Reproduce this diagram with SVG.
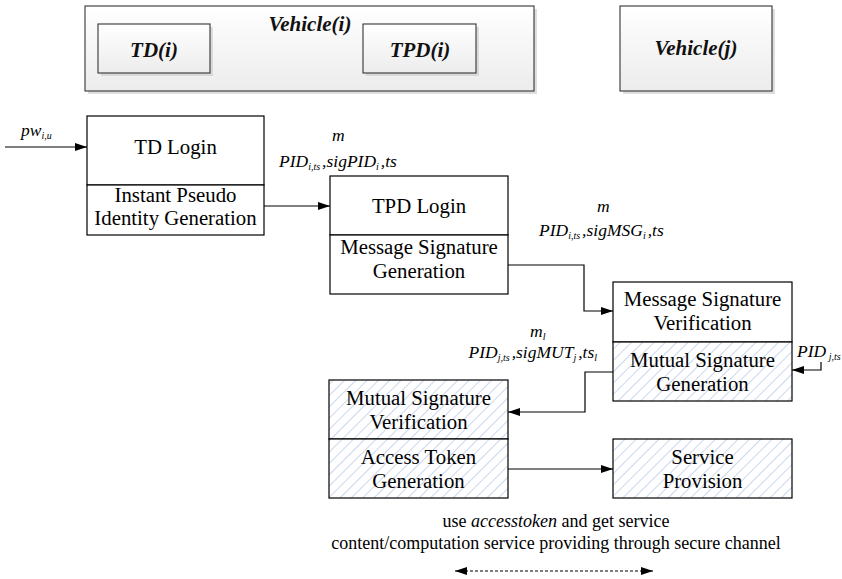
<svg xmlns="http://www.w3.org/2000/svg" width="842" height="579" viewBox="0 0 842 579">
<defs>
<style>
.box{fill:#fff;stroke:#000;stroke-width:1.2}
.hbox{fill:url(#hatch);stroke:#000;stroke-width:1.2}
.vbox{fill:url(#grad);stroke:#333;stroke-width:1.1}
.shadow{fill:#c8c8c8;opacity:0.6}
.line{fill:none;stroke:#000;stroke-width:1.2}
.t{font-family:"Liberation Serif","Times New Roman",serif;font-size:20.8px;fill:#000;text-anchor:middle}
.bi{font-family:"Liberation Serif","Times New Roman",serif;font-size:21px;font-weight:bold;font-style:italic;fill:#111;text-anchor:middle}
.lab{font-family:"Liberation Serif","Times New Roman",serif;font-size:17.5px;font-style:italic;fill:#000}
.sub{font-size:10px}
.cap{font-family:"Liberation Serif","Times New Roman",serif;font-size:18px;fill:#000;text-anchor:middle}
</style>
<linearGradient id="grad" x1="0" y1="0" x2="0" y2="1">
<stop offset="0" stop-color="#ffffff"/>
<stop offset="1" stop-color="#ececec"/>
</linearGradient>
<pattern id="hatch" patternUnits="userSpaceOnUse" width="8" height="8" patternTransform="rotate(45)">
<rect width="8" height="8" fill="#fff"/>
<line x1="0" y1="0" x2="0" y2="8" stroke="#aec2e6" stroke-width="1.3"/>
</pattern>
<marker id="arr" viewBox="0 0 12 10" refX="12" refY="5" markerWidth="12" markerHeight="10" markerUnits="userSpaceOnUse" orient="auto">
<path d="M0,1 L12,5 L0,9 z" fill="#000"/>
</marker>
<marker id="arrS" viewBox="0 0 12 10" refX="0" refY="5" markerWidth="12" markerHeight="10" markerUnits="userSpaceOnUse" orient="auto">
<path d="M12,1 L0,5 L12,9 z" fill="#000"/>
</marker>
</defs>
<rect width="842" height="579" fill="#fff"/>

<g id="vehicle-i">
<rect class="shadow" x="88" y="9" width="449" height="85"/>
<rect class="vbox" x="85" y="6" width="449" height="85"/>
<text class="bi" x="310" y="31">Vehicle(i)</text>
</g>
<g id="td-i">
<rect class="shadow" x="101" y="27" width="112" height="49"/>
<rect class="vbox" x="98" y="24" width="112" height="49"/>
<text class="bi" x="154" y="57">TD(i)</text>
</g>
<g id="tpd-i">
<rect class="shadow" x="366" y="27" width="113" height="49"/>
<rect class="vbox" x="363" y="24" width="113" height="49"/>
<text class="bi" x="420" y="57">TPD(i)</text>
</g>
<g id="vehicle-j">
<rect class="shadow" x="623" y="9" width="152" height="85"/>
<rect class="vbox" x="620" y="6" width="152" height="85"/>
<text class="bi" x="696" y="55">Vehicle(j)</text>
</g>

<g id="td-login">
<rect class="box" x="87" y="116" width="177" height="69"/>
<text class="t" x="175.5" y="154">TD Login</text>
</g>
<g id="instant-pseudo">
<rect class="box" x="87" y="185" width="177" height="50"/>
<text class="t" x="175.5" y="202">Instant Pseudo</text>
<text class="t" x="175.5" y="225">Identity Generation</text>
</g>
<g id="tpd-login">
<rect class="box" x="330" y="176" width="178" height="59"/>
<text class="t" x="419" y="213">TPD Login</text>
</g>
<g id="msg-sig-gen">
<rect class="box" x="330" y="235" width="178" height="59"/>
<text class="t" x="419" y="254">Message Signature</text>
<text class="t" x="419" y="278">Generation</text>
</g>
<g id="msg-sig-ver">
<rect class="box" x="613" y="282" width="179" height="60"/>
<text class="t" x="702.5" y="306">Message Signature</text>
<text class="t" x="702.5" y="330">Verification</text>
</g>
<g id="mut-sig-gen">
<rect class="hbox" x="613" y="342" width="179" height="59"/>
<text class="t" x="702.5" y="367">Mutual Signature</text>
<text class="t" x="702.5" y="391">Generation</text>
</g>
<g id="mut-sig-ver">
<rect class="hbox" x="329" y="380" width="179" height="59"/>
<text class="t" x="418.5" y="405">Mutual Signature</text>
<text class="t" x="418.5" y="429">Verification</text>
</g>
<g id="access-token">
<rect class="hbox" x="329" y="439" width="179" height="59"/>
<text class="t" x="418.5" y="464">Access Token</text>
<text class="t" x="418.5" y="488">Generation</text>
</g>
<g id="service-provision">
<rect class="hbox" x="613" y="439" width="179" height="59"/>
<text class="t" x="702.5" y="464">Service</text>
<text class="t" x="702.5" y="488">Provision</text>
</g>

<g id="connectors">
<path class="line" d="M5,147 H87" marker-end="url(#arr)"/>
<path class="line" d="M264,206 H330" marker-end="url(#arr)"/>
<path class="line" d="M508,265 H584 V311 H613" marker-end="url(#arr)"/>
<path class="line" d="M613,372 H585 V412 H508" marker-end="url(#arr)"/>
<path class="line" d="M821,362 V370 H792" marker-end="url(#arr)"/>
<path class="line" d="M508,469 H613" marker-end="url(#arr)"/>
<path class="line" d="M455,571 H653" stroke-dasharray="3,2" marker-start="url(#arrS)" marker-end="url(#arr)"/>
</g>

<g id="labels">
<text class="lab" x="21" y="136">pw<tspan class="sub" dy="3">i,u</tspan></text>
<text class="lab" x="332" y="141">m</text>
<text class="lab" x="279" y="167">PID<tspan class="sub" dy="3">i,ts</tspan><tspan dy="-3" dx="2">,sigPID</tspan><tspan class="sub" dy="3">i</tspan><tspan dy="-3" dx="2">,ts</tspan></text>
<text class="lab" x="597" y="212">m</text>
<text class="lab" x="539" y="236">PID<tspan class="sub" dy="3">i,ts</tspan><tspan dy="-3" dx="2">,sigMSG</tspan><tspan class="sub" dy="3">i</tspan><tspan dy="-3" dx="2">,ts</tspan></text>
<text class="lab" x="530" y="337">m<tspan class="sub" dy="3">l</tspan></text>
<text class="lab" x="597" y="358" text-anchor="end">PID<tspan class="sub" dy="3">j,ts</tspan><tspan dy="-3" dx="2">,sigMUT</tspan><tspan class="sub" dy="3">j</tspan><tspan dy="-3" dx="2">,ts</tspan><tspan class="sub" dy="3">l</tspan></text>
<text class="lab" x="797" y="357">PID<tspan class="sub" dy="3"> j,ts</tspan></text>
<text class="cap" x="556" y="527">use <tspan font-style="italic">accesstoken</tspan> and get service</text>
<text class="cap" x="556" y="549">content/computation service providing through secure channel</text>
</g>
</svg>
